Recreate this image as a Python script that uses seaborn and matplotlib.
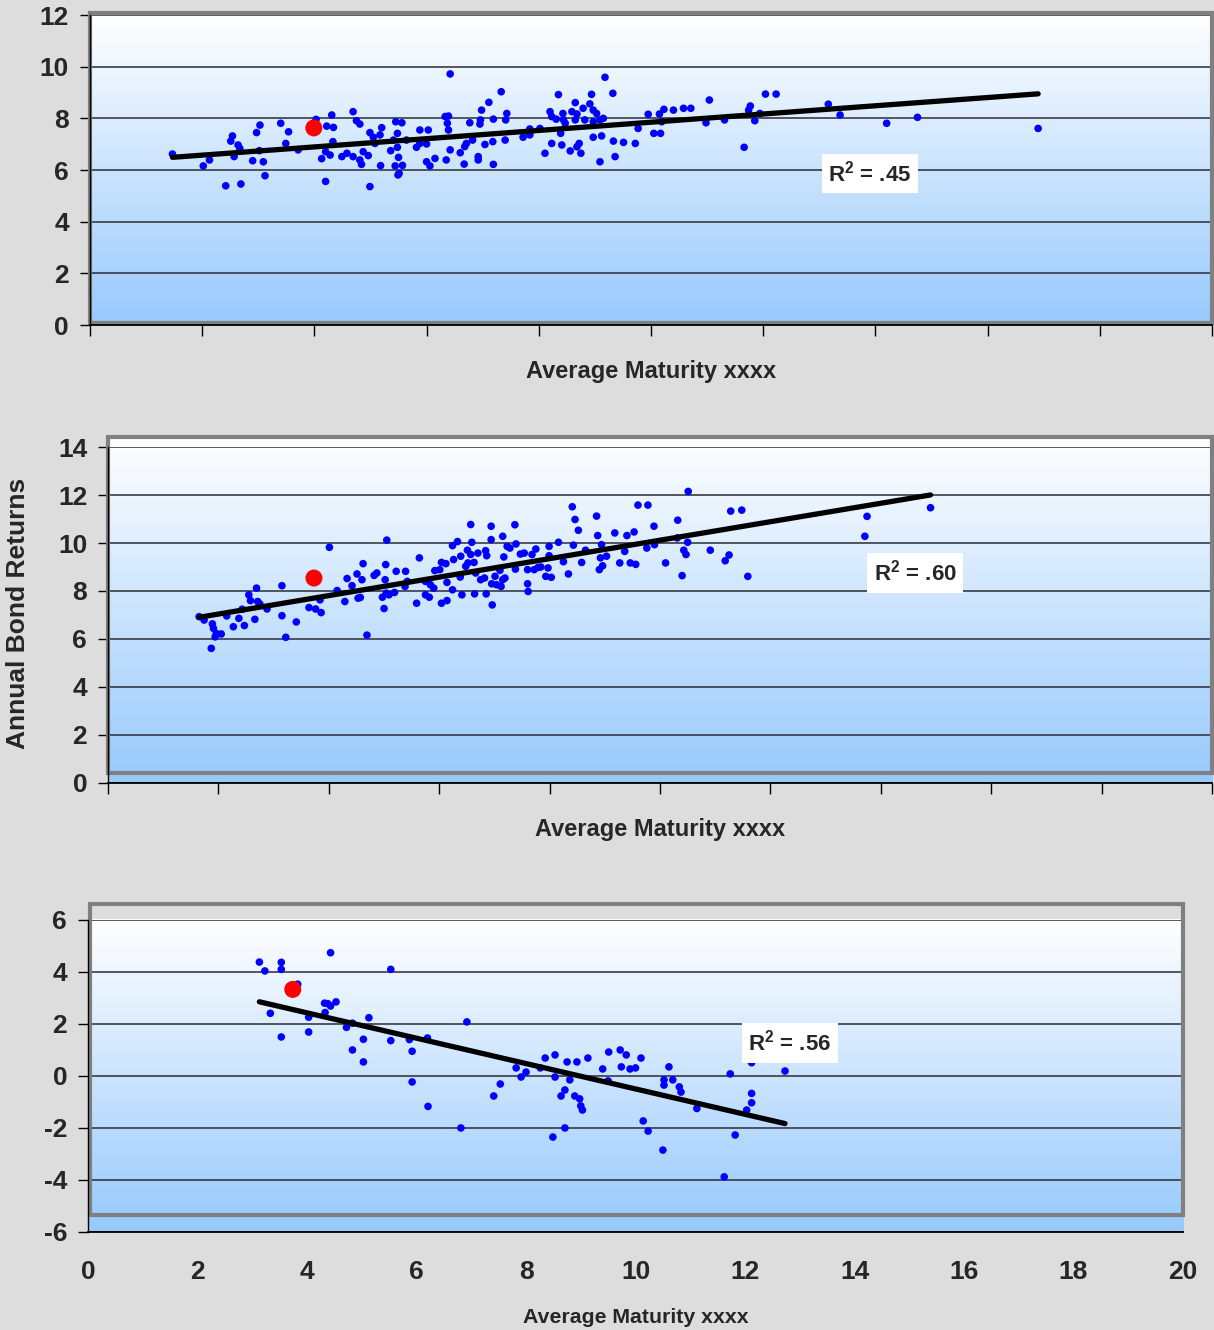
import numpy as np
import matplotlib
matplotlib.use("Agg")
import matplotlib.pyplot as plt
import seaborn as sns
from matplotlib.patches import Rectangle
from matplotlib.colors import LinearSegmentedColormap

# top panel
top_x = [1.47, 2.02, 2.13, 2.42, 2.69, 2.54, 2.51, 2.64, 2.67, 2.57,
         2.90, 2.97, 3.03, 3.02, 3.09, 3.12, 3.40, 3.54, 3.49, 3.71,
         4.03, 4.22, 4.34, 4.31, 4.33, 4.13, 4.20, 4.28, 4.20, 4.69,
         4.75, 4.81, 4.49, 4.58, 4.69, 4.81, 4.84, 4.87, 4.96, 4.99,
         4.99, 5.05, 5.17, 5.20, 5.08, 5.18, 5.36, 5.41, 5.45, 5.56,
         5.48, 5.48, 5.50, 5.44, 5.57, 5.51, 5.49, 5.64, 5.82, 5.88,
         6.03, 5.88, 6.00, 6.00, 6.06, 6.15, 6.35, 6.33, 6.39, 6.37,
         6.39, 6.42, 6.42, 6.60, 6.67, 6.68, 6.77, 6.82, 6.71, 6.92,
         6.92, 6.98, 6.96, 6.95, 7.11, 7.19, 7.18, 7.04, 7.19, 7.33,
         7.43, 7.41, 7.40, 7.72, 7.84, 7.84, 8.02, 8.11, 8.20, 8.23,
         8.31, 8.35, 8.39, 8.43, 8.44, 8.47, 8.23, 8.41, 8.56, 8.59,
         8.65, 8.68, 8.65, 8.72, 8.75, 8.68, 8.79, 8.82, 8.91, 8.94,
         8.97, 9.03, 8.97, 9.09, 9.15, 8.97, 9.12, 9.09, 9.18, 9.32,
         9.33, 9.36, 9.51, 9.72, 9.77, 9.95, 10.05, 10.17, 10.15, 10.23,
         10.19, 10.40, 10.58, 10.71, 11.04, 10.98, 11.31, 11.66, 11.77, 11.74,
         11.85, 11.94, 12.04, 12.23, 13.16, 13.37, 14.20, 14.75, 16.90]
top_y = [6.62, 6.16, 6.39, 5.39, 5.46, 7.32, 7.12, 6.97, 6.84, 6.52,
         6.36, 7.45, 7.74, 6.75, 6.32, 5.78, 7.81, 7.48, 7.03, 6.78,
         7.96, 7.70, 7.65, 8.13, 7.10, 6.44, 6.71, 6.58, 5.56, 8.26,
         7.91, 7.78, 6.52, 6.65, 6.52, 6.39, 6.22, 6.71, 6.56, 5.36,
         7.45, 7.27, 7.36, 7.64, 7.03, 6.17, 6.75, 7.16, 7.87, 7.83,
         7.42, 6.88, 6.49, 6.16, 6.18, 5.87, 5.81, 7.16, 6.88, 7.55,
         7.55, 7.03, 7.01, 6.32, 6.16, 6.45, 6.39, 8.07, 8.09, 7.81,
         7.55, 9.72, 6.78, 6.67, 6.23, 6.91, 7.83, 7.16, 7.03, 6.52,
         6.39, 8.32, 7.94, 7.78, 8.62, 7.97, 7.10, 6.99, 6.22, 9.03,
         8.19, 7.94, 7.16, 7.27, 7.59, 7.36, 7.61, 6.65, 8.26, 8.07,
         7.97, 8.92, 7.42, 8.19, 7.94, 7.81, 7.03, 6.97, 6.74, 8.26,
         8.61, 8.17, 7.94, 7.03, 6.65, 6.90, 8.39, 7.94, 8.56, 8.93,
         8.32, 8.19, 7.87, 7.94, 8.00, 7.27, 7.32, 6.32, 9.59, 8.97,
         7.12, 6.52, 7.07, 7.03, 7.61, 8.16, 7.42, 7.42, 8.17, 8.35,
         7.87, 8.32, 8.39, 8.39, 8.71, 7.83, 7.94, 6.88, 8.48, 8.32,
         7.91, 8.19, 8.94, 8.94, 8.55, 8.13, 7.81, 8.04, 7.61]
top_red = (3.99, 7.63)

# middle panel
mid_x = [1.65, 1.74, 1.89, 1.91, 1.96, 1.94, 2.05, 1.87, 2.15, 2.27,
         2.37, 2.43, 2.47, 2.55, 2.58, 2.69, 2.71, 2.75, 2.66, 2.88,
         3.15, 3.15, 3.22, 3.41, 3.64, 3.76, 3.86, 3.84, 4.01, 4.15,
         4.29, 4.33, 4.42, 4.53, 4.57, 4.51, 4.62, 4.60, 4.69, 4.82,
         4.87, 5.00, 4.97, 5.04, 5.09, 5.03, 5.05, 5.02, 5.19, 5.22,
         5.38, 5.42, 5.39, 5.59, 5.64, 5.75, 5.82, 5.75, 5.84, 5.90,
         5.92, 6.01, 6.04, 6.12, 6.04, 6.14, 6.14, 6.24, 6.26, 6.24,
         6.33, 6.39, 6.41, 6.38, 6.48, 6.52, 6.51, 6.57, 6.59, 6.57,
         6.63, 6.66, 6.70, 6.75, 6.82, 6.84, 6.86, 6.64, 6.85, 6.94,
         6.94, 6.95, 6.96, 7.01, 7.04, 7.10, 7.12, 7.15, 7.19, 7.17,
         7.15, 7.23, 7.28, 7.37, 7.39, 7.38, 7.47, 7.54, 7.60, 7.61,
         7.60, 7.68, 7.72, 7.75, 7.79, 7.84, 7.93, 7.97, 7.99, 7.99,
         8.03, 8.16, 8.25, 8.34, 8.41, 8.46, 8.43, 8.52, 8.58, 8.65,
         8.85, 8.87, 8.92, 8.94, 8.96, 8.90, 9.03, 9.18, 9.27, 9.36,
         9.40, 9.46, 9.53, 9.56, 9.60, 9.76, 9.78, 9.89, 9.90, 10.10,
         10.32, 10.31, 10.40, 10.43, 10.47, 10.50, 10.51, 10.91, 11.18, 11.25,
         11.28, 11.48, 11.59, 13.71, 13.75, 14.90]
mid_y = [6.93, 6.79, 6.63, 6.44, 6.23, 6.09, 6.21, 5.61, 6.96, 6.51,
         6.86, 7.24, 6.56, 7.84, 7.60, 8.12, 7.56, 7.46, 6.82, 7.25,
         8.22, 6.97, 6.07, 6.71, 7.31, 7.25, 7.10, 7.63, 9.82, 8.02,
         7.56, 8.52, 8.22, 7.70, 7.73, 8.71, 9.14, 8.47, 6.16, 8.65,
         8.75, 7.27, 7.74, 7.91, 7.84, 9.10, 10.12, 8.47, 7.94, 8.82,
         8.19, 8.40, 8.82, 7.49, 9.38, 7.84, 7.74, 8.40, 8.26, 8.12,
         8.85, 8.89, 9.19, 9.14, 7.49, 7.60, 8.36, 8.05, 9.31, 9.89,
         10.06, 9.45, 7.84, 8.58, 9.03, 9.17, 9.70, 10.77, 10.03, 9.52,
         9.19, 8.75, 9.58, 8.47, 8.54, 9.68, 9.47, 7.88, 7.88, 10.70,
         10.14, 8.30, 7.42, 8.61, 8.26, 8.86, 8.19, 8.47, 8.54, 9.42,
         10.28, 9.86, 9.79, 10.76, 9.96, 8.91, 9.54, 9.58, 8.30, 7.98,
         8.89, 9.52, 8.89, 9.75, 8.98, 9.00, 8.61, 8.96, 9.47, 9.86,
         8.57, 10.03, 9.22, 8.71, 11.51, 10.98, 9.91, 10.53, 9.19, 9.70,
         11.12, 10.31, 9.38, 9.93, 9.05, 8.89, 9.45, 10.42, 9.17, 9.65,
         10.31, 9.17, 10.46, 9.11, 11.58, 9.79, 11.58, 10.70, 9.93, 9.17,
         10.95, 10.21, 8.64, 9.70, 9.52, 10.03, 12.15, 9.70, 9.26, 9.50,
         11.33, 11.37, 8.61, 10.28, 11.11, 11.47]
mid_red = (3.73, 8.54)

# bottom panel
bot_x = [3.13, 3.23, 3.53, 3.53, 3.33, 3.53, 3.83, 4.03, 4.03, 4.32,
         4.33, 4.43, 4.38, 4.53, 4.43, 4.72, 4.83, 4.83, 5.03, 5.03,
         5.13, 5.53, 5.53, 5.87, 5.92, 5.92, 6.20, 6.21, 6.92, 6.81,
         7.41, 7.53, 7.82, 7.91, 8.00, 8.26, 8.35, 8.53, 8.53, 8.49,
         8.64, 8.71, 8.71, 8.75, 8.80, 8.89, 8.93, 9.00, 9.03, 8.98,
         9.13, 9.40, 9.51, 9.50, 9.72, 9.74, 9.83, 9.90, 10.00, 10.10,
         10.14, 10.23, 10.50, 10.52, 10.52, 10.61, 10.68, 10.80, 10.83, 11.12,
         11.73, 12.12, 12.73, 12.12, 12.12, 12.03, 11.82, 11.62]
bot_y = [4.38, 4.04, 4.37, 4.10, 2.41, 1.50, 3.53, 2.26, 1.69, 2.80,
         2.44, 2.69, 2.78, 2.85, 4.74, 1.87, 2.03, 1.00, 1.41, 0.54,
         2.24, 4.10, 1.36, 1.40, 0.95, -0.23, 1.46, -1.17, 2.08, -2.00,
         -0.77, -0.31, 0.31, -0.04, 0.15, 0.31, 0.69, 0.81, -0.04, -2.35,
         -0.77, -2.00, -0.54, 0.54, -0.15, -0.77, 0.54, -1.15, -1.31, -0.88,
         0.69, 0.27, 0.92, -0.19, 1.00, 0.35, 0.81, 0.27, 0.31, 0.69,
         -1.73, -2.12, -2.85, -0.15, -0.35, 0.35, -0.15, -0.42, -0.62, -1.25,
         0.08, 0.51, 0.19, -0.67, -1.03, -1.31, -2.27, -3.88]
bot_red = (3.74, 3.33)

r2_labels = ["R$^2$ = .45", "R$^2$ = .60", "R$^2$ = .56"]
x_title = "Average Maturity xxxx"
y_title = "Annual Bond Returns"

sns.set_style("white")
plt.rcParams['font.family'] = ['Liberation Sans', 'DejaVu Sans']
plt.rcParams['font.weight'] = 'bold'
plt.rcParams['axes.unicode_minus'] = False
plt.rcParams['mathtext.fontset'] = 'custom'
plt.rcParams['mathtext.rm'] = 'Liberation Sans:bold'
plt.rcParams['mathtext.it'] = 'Liberation Sans:bold'
plt.rcParams['mathtext.bf'] = 'Liberation Sans:bold'
plt.rcParams['mathtext.default'] = 'rm'

bg = "#DDDDDD"
grad = LinearSegmentedColormap.from_list("sky", ["#FFFFFF", "#97C9FD"])

fig = plt.figure(figsize=(12.14, 13.30), dpi=100, facecolor=bg)
ax_top = fig.add_axes([0.0741, 0.7556, 0.9243, 0.2331])
ax_mid = fig.add_axes([0.0890, 0.4113, 0.9094, 0.2526])
ax_bot = fig.add_axes([0.0725, 0.0737, 0.9020, 0.2346])


def draw_panel(ax, xs, ys, red, label, label_xy, ylim, frame, grad_top, bottom_labels,
               xlabel_y, xlabel_size):
    ax.set_facecolor(bg)
    g = np.linspace(0, 1, 256).reshape(-1, 1)
    ax.imshow(g, cmap=grad, extent=(0, 1, 0, grad_top), transform=ax.transAxes,
              aspect='auto', zorder=-2, clip_on=False)
    sns.scatterplot(x=xs, y=ys, ax=ax, color="#0000FF", s=30, edgecolor="none", zorder=3)
    sns.regplot(x=np.array(xs), y=np.array(ys), ax=ax, scatter=False, ci=None, truncate=True,
                color="black", line_kws={"lw": 3.8, "zorder": 4, "solid_capstyle": "round"})
    sns.scatterplot(x=[red[0]], y=[red[1]], ax=ax, color="#FF0000", s=150, edgecolor="none", zorder=5)
    ax.text(label_xy[0], label_xy[1], label, ha="center", va="center", fontsize=16,
            fontweight="bold", zorder=6,
            bbox=dict(boxstyle="square,pad=0.3", fc="white", ec="none"))

    ax.set_xlim(0, 20)
    ax.set_xticks(range(0, 21, 2))
    ax.set_ylim(*ylim)
    ax.set_yticks(range(ylim[0], ylim[1] + 1, 2))
    ax.yaxis.grid(True, color="#2b2b35", lw=1.1, zorder=0)
    ax.xaxis.grid(False)
    ax.set_axisbelow(True)
    for s in ["top", "right"]:
        ax.spines[s].set_visible(False)
    ax.spines["left"].set_color("black")
    ax.spines["bottom"].set_color("black")
    ax.spines["left"].set_linewidth(1)
    ax.spines["bottom"].set_linewidth(1.3)

    ax.add_patch(Rectangle((frame[0], frame[1]), frame[2] - frame[0], frame[3] - frame[1],
                           transform=ax.transAxes, fill=False, edgecolor="#808080",
                           lw=3, clip_on=False, zorder=2))

    ax.tick_params(axis="y", left=True, direction="out", length=7, width=1, color="black",
                   pad=8, labelsize=19)
    if bottom_labels:
        ax.tick_params(axis="x", bottom=False, length=0, pad=20, labelsize=19)
    else:
        ax.tick_params(axis="x", bottom=True, direction="out", length=8, width=1,
                       color="black", labelbottom=False)
    ax.set_xlabel(x_title, fontsize=xlabel_size, fontweight="bold")
    ax.xaxis.set_label_coords(0.5, xlabel_y)
    ax.set_ylabel("")


draw_panel(ax_top, top_x, top_y, top_red, r2_labels[0], (13.9, 5.88), (0, 12),
           (0.0, 0.006, 1.0, 1.006), 1.0, False, -0.112, 17)
draw_panel(ax_mid, mid_x, mid_y, mid_red, r2_labels[1], (14.62, 8.75), (0, 14),
           (0.0, 0.030, 1.0, 1.030), 1.03, False, -0.104, 17)
draw_panel(ax_bot, bot_x, bot_y, bot_red, r2_labels[2], (12.82, 1.27), (-6, 6),
           (0.002, 0.054, 1.0, 1.051), 1.0, True, -0.245, 15.3)

fig.text(0.0148, 0.539, y_title, rotation=90, ha="center", va="center",
         fontsize=19, fontweight="bold")

fig.savefig("out.png", dpi=100, facecolor=bg)
